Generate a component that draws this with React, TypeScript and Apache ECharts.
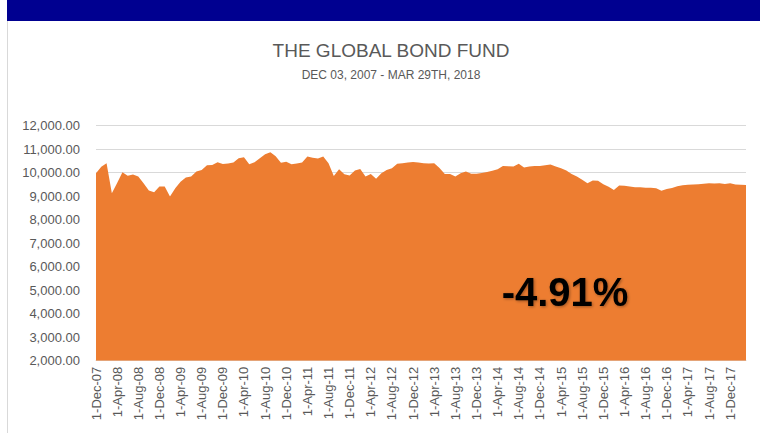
import React, { useEffect, useRef } from "react";
import * as echarts from "echarts";

const titleText = "THE GLOBAL BOND FUND";
const subtitleText = "DEC 03, 2007 - MAR 29TH, 2018";
const returnLabel = "-4.91%";

const monthNames = ["Jan", "Feb", "Mar", "Apr", "May", "Jun", "Jul", "Aug", "Sep", "Oct", "Nov", "Dec"];
const startYear = 2007;
const startMonth = 11; // December (0-based)
const monthCount = 124; // Dec-07 .. Mar-18

const fundValues = [
  9980, 10250, 10400, 9130, 9560, 10020, 9870, 9920, 9840, 9550,
  9240, 9170, 9410, 9410, 8990, 9340, 9620, 9800, 9840, 10050,
  10120, 10320, 10330, 10440, 10370, 10390, 10430, 10610, 10660, 10360,
  10450, 10620, 10790, 10870, 10700, 10420, 10470, 10360, 10390, 10430,
  10690, 10640, 10600, 10690, 10400, 9860, 10150, 9930, 9880, 10090,
  10160, 9840, 9940, 9740, 9980, 10120, 10190, 10380, 10400, 10430,
  10460, 10430, 10400, 10390, 10400, 10200, 9950, 9940, 9840, 9980,
  10050, 9960, 9960, 9990, 10030, 10080, 10150, 10290, 10270, 10260,
  10380, 10220, 10260, 10290, 10290, 10320, 10350, 10260, 10190, 10090,
  9950, 9840, 9700, 9550, 9670, 9660, 9510, 9400, 9260, 9460,
  9440, 9410, 9380, 9380, 9360, 9360, 9340, 9230, 9310, 9350,
  9420, 9470, 9490, 9500, 9510, 9530, 9550, 9540, 9550, 9520,
  9550, 9500, 9490, 9480,
];

const categories: string[] = [];
for (let i = 0; i < monthCount; i++) {
  const mi = startMonth + i;
  const y = startYear + Math.floor(mi / 12);
  const m = mi % 12;
  categories.push(`1-${monthNames[m]}-${String(y % 100).padStart(2, "0")}`);
}

const yMin = 2000;
const yMax = 12000;
const yStep = 1000;

export default function App() {
  const ref = useRef<HTMLDivElement>(null);
  useEffect(() => {
    if (!ref.current) return;
    const chart = echarts.init(ref.current, undefined, { renderer: "svg" });
    chart.setOption({
      animation: false,
      backgroundColor: "#ffffff",
      grid: { left: 96, right: 14, top: 125.7, bottom: 72.3, containLabel: false },
      title: [
        {
          text: titleText,
          left: 386,
          top: 36,
          textAlign: "center",
          textStyle: { fontFamily: "Liberation Sans Narrow, Liberation Sans", fontSize: 19, fontWeight: "normal", color: "#595959" },
        },
        {
          text: subtitleText,
          left: 386,
          top: 64,
          textAlign: "center",
          textStyle: { fontFamily: "Liberation Sans Narrow, Liberation Sans", fontSize: 12, fontWeight: "normal", color: "#595959" },
        },
      ],
      xAxis: {
        type: "category",
        data: categories,
        boundaryGap: false,
        axisLine: { show: true, lineStyle: { color: "#d9d9d9" } },
        axisTick: { show: false },
        axisLabel: {
          interval: 3,
          rotate: 90,
          margin: 6,
          fontFamily: "Liberation Sans",
          fontSize: 13,
          color: "#595959",
        },
        splitLine: { show: false },
      },
      yAxis: {
        type: "value",
        min: yMin,
        max: yMax,
        interval: yStep,
        axisLine: { show: false },
        axisTick: { show: false },
        axisLabel: {
          margin: 16,
          fontFamily: "Liberation Sans",
          fontSize: 13,
          color: "#595959",
          formatter: (v: number) =>
            v.toLocaleString("en-US", { minimumFractionDigits: 2, maximumFractionDigits: 2 }),
        },
        splitLine: { show: true, lineStyle: { color: "#d9d9d9", width: 1 } },
      },
      series: [
        {
          type: "line",
          data: fundValues,
          symbol: "none",
          lineStyle: { width: 0, color: "#ED7D31" },
          itemStyle: { color: "#ED7D31" },
          areaStyle: { color: "#ED7D31", opacity: 1, origin: "start" },
          z: 3,
        },
      ],
      graphic: [
        {
          type: "rect",
          left: 7,
          top: 0,
          shape: { width: 753, height: 21 },
          style: { fill: "#000090" },
          z: 10,
        },
        {
          type: "line",
          shape: { x1: 7.5, y1: 21, x2: 7.5, y2: 433 },
          style: { stroke: "#d9d9d9", lineWidth: 1 },
          z: 10,
        },
        {
          type: "text",
          x: 565,
          y: 292,
          style: {
            text: returnLabel,
            fontFamily: "Liberation Sans",
            fontSize: 40,
            fontWeight: "bold",
            fill: "#000000",
            align: "center",
            verticalAlign: "middle",
            textShadowColor: "rgba(0,0,0,0.35)",
            textShadowBlur: 3,
            textShadowOffsetX: 1,
            textShadowOffsetY: 1,
          },
          z: 20,
        },
      ],
    });
    return () => chart.dispose();
  }, []);
  return (
    <div
      ref={ref}
      style={{ position: "fixed", left: 0, top: 0, width: 760, height: 433, background: "#fff" }}
    />
  );
}
